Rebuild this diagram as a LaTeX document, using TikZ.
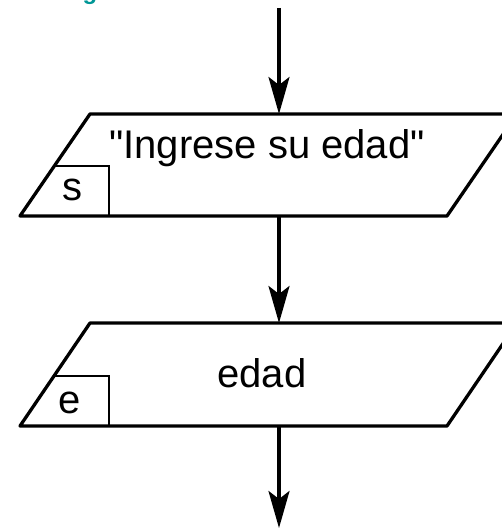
\documentclass[tikz,border=0pt]{standalone}
\usepackage{fontspec}
\setmainfont{Liberation Sans}
\newfontfamily\flowfont{Liberation Sans}
\usetikzlibrary{arrows.meta}
\definecolor{titleteal}{RGB}{0,150,150}

\begin{document}
\begin{tikzpicture}[x=1pt,y=-1pt]
\tikzstyle{every node}+=[inner sep=0pt, font=\flowfont\fontsize{40}{48}\selectfont]
\useasboundingbox (0,0) rectangle (502,529);
\clip (0,0) rectangle (502,529);
% cut title
\node [anchor=base, text=titleteal, font=\flowfont\fontsize{24}{28}\selectfont\bfseries] (title) at (90,-0.5) {g};
% output shape
\draw [black, line width=3.3pt, line join=round] (90,114) -- (517,114) -- (447,216) -- (20,216) -- cycle;
\draw [black, line width=1.4pt] (54.3,166) -- (109,166) -- (109,216);
\draw (267,148) node (msg) {"Ingrese su edad"};
\draw (72,190) node (tagS) {s};
% input shape
\draw [black, line width=3.3pt, line join=round] (90,323) -- (517,323) -- (447,426) -- (20,426) -- cycle;
\draw [black, line width=1.4pt] (54,376) -- (109,376) -- (109,426);
\draw (262,373) node (var) {edad};
\draw (70,403) node (tagE) {e};
% flow
\coordinate (start) at (279,8);
\coordinate (outTop) at (279,114);
\coordinate (outBot) at (279,216);
\coordinate (inTop) at (279,323);
\coordinate (inBot) at (279,426);
\coordinate (finish) at (279,528);
\draw [black, line width=3.3pt, -{Stealth[length=37pt,width=21pt,inset=8pt]}] (start) -- (outTop);
\draw [black, line width=3.3pt, -{Stealth[length=37pt,width=21pt,inset=8pt]}] (outBot) -- (inTop);
\draw [black, line width=3.3pt, -{Stealth[length=37pt,width=21pt,inset=8pt]}] (inBot) -- (finish);
\end{tikzpicture}
\end{document}
